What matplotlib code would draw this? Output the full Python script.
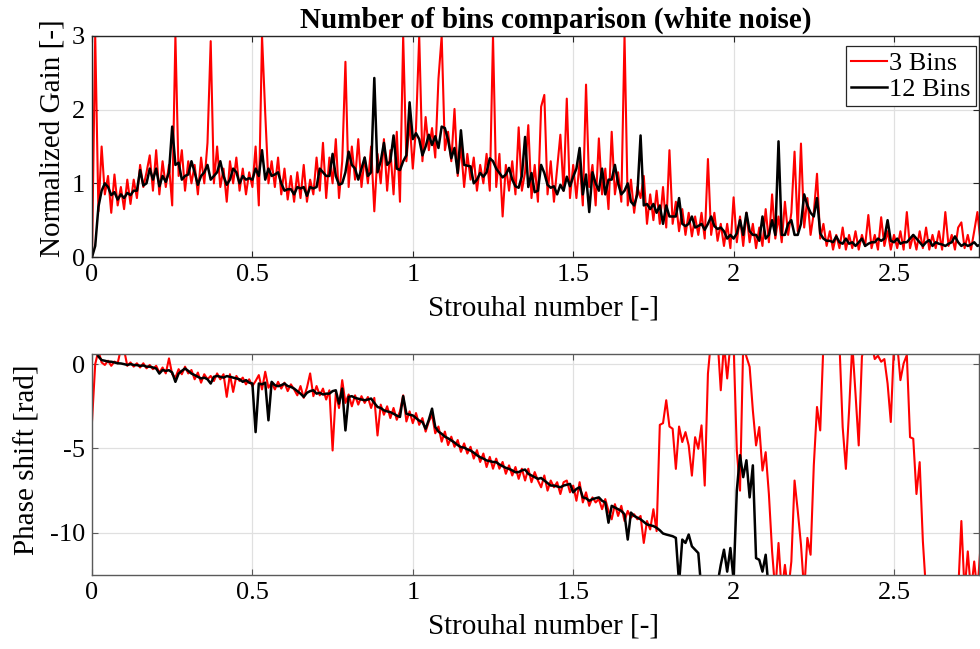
import numpy as np
import matplotlib
matplotlib.use("Agg")
import matplotlib.pyplot as plt

# ---------------- data (Strouhal grid step 0.01, starting at 0) ----------------
gain_12bins = [
    0.0, 0.15, 0.68, 0.9, 1.0, 0.95, 0.84, 0.88, 0.78, 0.85,
    0.8, 0.87, 0.84, 0.9, 0.9, 1.18, 0.97, 1.0, 1.2, 1.05,
    1.2, 0.96, 1.1, 1.02, 1.15, 1.77, 1.25, 1.28, 1.05, 1.1,
    1.12, 1.3, 1.15, 0.98, 1.1, 1.15, 1.25, 1.05, 1.1, 1.15,
    1.3, 1.1, 0.98, 1.05, 1.2, 1.15, 1.0, 1.1, 1.05, 1.07,
    1.05, 1.2, 1.1, 1.45, 1.05, 1.2, 1.1, 1.12, 1.15, 1.0,
    0.9, 0.92, 0.92, 0.85, 0.95, 0.93, 0.95, 0.83, 0.95, 0.93,
    0.95, 1.2, 1.15, 1.1, 1.1, 1.4, 1.1, 0.98, 1.0, 1.15,
    1.43, 1.25, 1.2, 1.05, 1.2, 1.35, 1.1, 1.15, 2.43, 1.15,
    1.3, 1.55, 1.25, 1.3, 1.65, 1.2, 1.18, 1.3, 1.38, 2.1,
    1.6, 1.68, 1.6, 1.38, 1.5, 1.66, 1.52, 1.64, 1.48, 1.77,
    1.75, 1.59, 1.34, 1.48, 1.14, 1.72, 1.25, 1.24, 1.23, 1.0,
    1.05, 1.14, 1.09, 1.15, 1.34, 1.3, 1.2, 1.14, 1.08, 1.12,
    1.21, 1.05, 0.96, 0.94, 1.1, 1.63, 0.95, 1.14, 0.88, 0.9,
    1.25, 1.14, 0.98, 0.94, 0.96, 0.85, 0.98, 0.9, 1.09, 0.96,
    1.09, 1.2, 1.48, 0.85, 1.12, 0.61, 1.15, 1.0, 0.9, 1.2,
    0.85, 1.05, 1.05, 1.25, 1.0, 0.85, 0.9, 1.0, 0.75, 0.7,
    0.85, 1.65, 0.7, 0.72, 0.65, 0.72, 0.6, 0.7, 0.45, 0.7,
    0.55, 0.55, 0.55, 0.8, 0.45, 0.42, 0.45, 0.55, 0.4, 0.42,
    0.45, 0.37, 0.45, 0.55, 0.42, 0.38, 0.4, 0.35, 0.25, 0.3,
    0.25, 0.32, 0.5, 0.3, 0.6, 0.35, 0.3, 0.3, 0.22, 0.55,
    0.25, 0.3, 0.5, 0.3, 1.57, 0.3, 0.3, 0.45, 0.5, 0.3,
    0.3, 0.45, 0.85, 0.7, 0.6, 0.55, 0.8, 0.32, 0.25, 0.22,
    0.22, 0.2, 0.28, 0.2, 0.18, 0.25, 0.18, 0.2, 0.15, 0.2,
    0.25, 0.15, 0.18, 0.2, 0.2, 0.25, 0.22, 0.25, 0.5, 0.22,
    0.2, 0.25, 0.18, 0.2, 0.2, 0.25, 0.3, 0.25, 0.2, 0.15,
    0.2, 0.23, 0.15, 0.2, 0.18, 0.17, 0.15, 0.18, 0.2, 0.28,
    0.2, 0.15, 0.18, 0.15, 0.17, 0.2, 0.15, 0.17,
]

gain_3bins = [
    0.0, 3.0, 0.62, 1.5, 0.85, 1.1, 0.6, 1.12, 0.7, 0.95,
    0.65, 1.05, 0.72, 1.05, 0.8, 1.25, 0.95, 1.15, 1.38, 0.9,
    1.45, 0.85, 1.3, 0.95, 1.25, 0.7, 3.0, 1.1, 1.45, 0.9,
    1.3, 1.0, 1.25, 0.85, 1.35, 1.0, 1.55, 2.93, 1.0, 1.5,
    0.95, 1.2, 0.75, 1.3, 1.0, 1.35, 0.9, 1.2, 0.85, 1.15,
    0.95, 1.5, 0.7, 3.0, 1.95, 1.0, 1.3, 0.95, 1.35, 0.85,
    1.2, 0.78, 1.1, 0.75, 1.15, 0.8, 1.25, 0.75, 1.05, 0.85,
    1.35, 0.9, 1.55, 0.8, 1.35, 1.0, 1.6, 0.8, 1.3, 2.65,
    0.95, 1.5, 1.05, 1.6, 0.95, 1.35, 1.0, 1.5, 0.62, 1.4,
    1.0, 1.6, 0.9, 1.45, 0.85, 1.7, 0.75, 3.0, 1.3, 1.85,
    1.2, 1.75, 3.0, 1.3, 1.9, 1.45, 1.75, 1.35, 2.42, 3.0,
    1.45, 1.7, 1.3, 2.01, 1.1, 1.5, 0.95, 1.4, 1.05, 1.35,
    0.9, 1.25, 1.0, 1.4, 0.9, 3.0, 0.95, 1.4, 0.55, 1.25,
    0.9, 1.3, 0.85, 1.76, 0.9, 1.15, 1.79, 0.8, 1.25, 0.75,
    2.04, 2.2, 0.85, 1.3, 0.75, 1.2, 1.66, 0.9, 2.15, 0.8,
    1.25, 0.8, 1.3, 0.7, 2.34, 0.95, 1.25, 0.7, 1.61, 0.85,
    1.2, 0.65, 1.7, 0.85, 1.15, 0.75, 3.0, 0.7, 1.05, 0.6,
    0.95, 0.8, 1.1, 0.45, 0.85, 0.5, 0.9, 0.45, 0.95, 0.4,
    1.45, 0.45, 0.75, 0.35, 0.65, 0.3, 0.6, 0.28, 0.55, 0.3,
    0.6, 0.25, 1.33, 0.3, 0.6, 0.22, 0.45, 0.15, 0.45, 0.12,
    0.81, 0.2, 0.55, 0.15, 0.6, 0.2, 0.45, 0.12, 0.4, 0.15,
    0.65, 0.2, 0.85, 0.25, 0.55, 0.2, 0.75, 0.3, 0.6, 1.43,
    0.35, 1.54, 0.4, 0.8, 0.3, 0.6, 1.13, 0.25, 0.45, 0.15,
    0.35, 0.1, 0.3, 0.12, 0.4, 0.1, 0.3, 0.12, 0.35, 0.1,
    0.3, 0.15, 0.57, 0.12, 0.3, 0.1, 0.54, 0.15, 0.35, 0.1,
    0.3, 0.12, 0.35, 0.1, 0.61, 0.12, 0.3, 0.1, 0.35, 0.12,
    0.4, 0.1, 0.3, 0.12, 0.35, 0.1, 0.61, 0.15, 0.3, 0.1,
    0.4, 0.47, 0.12, 0.3, 0.1, 0.35, 0.61, 0.2,
]

phase_12bins = [
    1.5, 0.9, 0.45, 0.24, 0.2, 0.15, 0.14, 0.1, 0.05, 0.04,
    0.0, -0.05, 0.0, -0.05, -0.06, -0.1, -0.08, -0.15, -0.15, -0.2,
    -0.26, -0.56, -0.35, -0.4, -0.36, -0.5, -1.05, -0.56, -0.4, -0.26,
    -0.4, -0.56, -0.65, -0.75, -0.85, -0.8, -0.9, -1.15, -0.75, -0.7,
    -0.75, -0.8, -0.71, -0.75, -0.8, -0.85, -0.9, -1.05, -0.95, -1.1,
    -1.15, -4.03, -1.15, -1.2, -1.1, -3.33, -1.05, -1.25, -1.31, -1.25,
    -1.15, -1.3, -1.35, -1.45, -1.6, -1.75, -1.94, -1.7, -1.6, -1.55,
    -1.75, -1.7, -1.8, -1.75, -1.75, -1.6, -1.55, -2.34, -1.45, -3.93,
    -1.94, -1.9, -2.0, -2.05, -2.1, -2.14, -2.1, -2.04, -2.3, -2.54,
    -2.6, -2.74, -2.8, -2.85, -2.94, -3.05, -3.13, -1.9, -2.94, -3.0,
    -3.04, -3.2, -3.35, -3.43, -3.83, -3.3, -2.64, -3.73, -4.0, -4.13,
    -4.3, -4.4, -4.52, -4.65, -4.8, -4.92, -4.95, -5.05, -5.12, -5.25,
    -5.4, -5.52, -5.6, -5.71, -5.75, -5.8, -5.81, -5.95, -6.05, -6.15,
    -6.21, -6.3, -6.41, -6.4, -6.3, -6.25, -6.5, -6.6, -6.7, -6.8,
    -6.75, -6.9, -7.05, -7.2, -7.2, -7.25, -7.3, -7.2, -7.15, -7.1,
    -7.6, -7.4, -7.3, -7.9, -7.95, -8.1, -8.0, -7.95, -7.9, -8.1,
    -8.2, -9.4, -8.4, -8.5, -8.6, -8.7, -8.9, -10.4, -8.8, -9.0,
    -9.1, -9.2, -9.35, -9.5, -9.55, -9.6, -9.7, -9.85, -10.04, -10.1,
    -10.15, -10.2, -10.3, -13.0, -10.4, -10.6, -10.1, -10.8, -11.0, -11.2,
    -13.5, -14.0, -14.5, -14.0, -13.5, -13.0, -11.9, -11.0, -12.3, -10.9,
    -12.8, -7.5, -5.4, -6.7, -5.7, -7.9, -6.0, -11.5, -11.6, -12.3,
    -11.3, -13.5, -14.0,
]

phase_3bins = [
    -3.4, 0.0, 0.8, 0.1, -0.05, 0.2, -0.1, 0.15, 0.05, 0.9,
    0.85, -0.1, 0.1, -0.15, 0.05, -0.2, 0.05, -0.25, -0.05, -0.3,
    -0.1, -0.5, -0.2, -0.55, 0.34, -0.6, -0.8, -0.3, -0.6, -0.15,
    -0.55, -0.35, -0.9, -0.5, -1.1, -0.6, -0.9, -0.7, -1.0, -0.55,
    -0.9, -0.6, -1.94, -0.6, -1.65, -0.7, -1.0, -0.8, -1.2, -0.9,
    -1.3, -1.0, -0.65, -1.5, -0.45, -1.4, -1.1, -1.5, -1.05, -1.45,
    -1.1, -1.6, -1.2, -1.5, -1.85, -1.3, -2.0, -1.4, -0.55, -1.9,
    -1.3, -1.85, -1.45, -2.1, -1.55, -5.12, -1.7, -2.6, -0.95, -2.3,
    -1.8, -2.5, -1.85, -2.4, -1.9, -2.3, -1.95, -2.6, -2.0, -4.23,
    -2.4, -3.0, -2.5, -3.2, -2.6, -3.3, -2.8, -1.85, -3.4, -2.8,
    -3.5, -2.9, -3.6, -3.2, -4.0, -3.4, -3.0, -4.1, -3.7, -4.6,
    -4.0, -4.8, -4.3, -4.9, -4.5, -5.2, -4.7, -5.3, -4.9, -5.6,
    -5.1, -5.8, -5.3, -6.1, -5.5, -6.2, -5.6, -6.2, -5.8, -6.5,
    -6.0, -6.6, -6.1, -6.8, -6.2, -6.9, -6.2, -7.0, -6.4, -6.9,
    -7.3, -6.6, -7.5, -6.9, -7.3, -7.0, -7.7, -7.0, -6.9, -7.6,
    -7.2, -8.1, -7.0, -8.2, -7.6, -8.4, -7.9, -8.2, -8.0, -8.6,
    -8.0, -8.7, -9.2, -8.3, -9.0, -8.4, -9.3, -8.7, -9.1, -8.9,
    -9.2, -9.0, -10.6, -9.3, -9.8, -8.6, -9.9, -3.6, -3.5, -2.14,
    -3.7, -3.83, -6.21, -3.7, -4.62, -4.03, -4.82, -6.61, -4.33, -5.02,
    -3.63, -7.2, -0.56, 1.5, 1.2, 1.5, -1.55, 1.2, -0.85, 1.2,
    1.2, -5.12, -7.5, 1.2, 0.44, -0.16, -2.74, -4.82, -3.73, -6.31,
    -5.22, -7.7, -11.1, -13.5, -10.6, -13.5, -11.9, -13.5, -11.7, -6.9,
    -8.7, -10.7, -13.5, -10.3, -11.3, -6.0, -2.54, -3.93, 1.2, 1.5,
    1.2, 1.5, 1.2, 1.2, -3.73, -6.21, -2.74, 1.2, -1.75, -4.82,
    0.44, 1.2, 1.5, 1.2, 0.3, 0.5, 0.14, 0.3, -1.15, -3.43,
    1.2, 1.2, -0.95, 0.04, 0.54, -4.33, -4.42, -7.7, -5.81, -10.5,
    -13.5, -13.5, -13.5, -13.5, -13.5, -13.5, -13.5, -13.5, -13.5, -13.5,
    -13.5, -9.3, -13.5, -11.1, -13.5, -11.7, -13.5, -10.7,
]

st_step = 0.01
xticks = [0, 0.5, 1, 1.5, 2, 2.5]
xticklabels = ["0", "0.5", "1", "1.5", "2", "2.5"]
gain_ticks = [0, 1, 2, 3]
phase_ticks = [-10, -5, 0]
series_labels = ["3 Bins", "12 Bins"]

# ---------------- figure ----------------
plt.rcParams["font.family"] = ["Liberation Serif", "DejaVu Serif"]
plt.rcParams["axes.unicode_minus"] = False

W, H = 980, 649
fig = plt.figure(figsize=(W / 100, H / 100), dpi=100)

ax_l, ax_r = 92, 979
ax1 = fig.add_axes([ax_l / W, (H - 257) / H, (ax_r - ax_l) / W, 221 / H])
ax2 = fig.add_axes([ax_l / W, (H - 575) / H, (ax_r - ax_l) / W, 221 / H])

x3 = np.arange(len(gain_3bins)) * st_step
x12 = np.arange(len(gain_12bins)) * st_step
xp3 = np.arange(len(phase_3bins)) * st_step
xp12 = np.arange(len(phase_12bins)) * st_step

ax1.plot(x3, gain_3bins, color="#ff0000", lw=1.5, label=series_labels[0])
ax1.plot(x12, gain_12bins, color="black", lw=1.8, label=series_labels[1])
ax2.plot(xp3, phase_3bins, color="#ff0000", lw=1.5)
ax2.plot(xp12, phase_12bins, color="black", lw=1.8)

xmax = (ax_r - ax_l) / 320.8
tick_fs = 19
label_fs = 21

for ax, spine_col in ((ax1, "#262626"), (ax2, "#5a5a5a")):
    ax.set_xlim(0, xmax)
    ax.set_xticks(xticks)
    ax.set_xticklabels(xticklabels)
    ax.grid(True, color="#e0e0e0", linewidth=0.9)
    ax.set_axisbelow(True)
    ax.tick_params(direction="in", length=4, width=0.8, top=True, right=True,
                   labelsize=tick_fs, colors=spine_col, labelcolor="black", pad=5)
    for s in ax.spines.values():
        s.set_color(spine_col)
        s.set_linewidth(1.0)
    ax.set_xlabel("Strouhal number [-]", fontsize=label_fs)

ax1.set_ylim(0, 3)
ax1.set_yticks(gain_ticks)
ax2.set_ylim(-12.5, 0.6)
ax2.set_yticks(phase_ticks)

ax1.set_ylabel("Normalized Gain [-]", fontsize=label_fs)
ax2.set_ylabel("Phase shift [rad]", fontsize=label_fs)

axw = ax_r - ax_l
ax1.xaxis.set_label_coords((543.5 - ax_l) / axw, (257 - 308) / 221)
ax1.xaxis.label.set_va("center")
ax2.xaxis.set_label_coords((543.5 - ax_l) / axw, (575 - 627) / 221)
ax2.xaxis.label.set_va("center")
ax1.yaxis.set_label_coords((52 - ax_l) / axw, (257 - 138) / 221)
ax1.yaxis.label.set_va("center")
ax2.yaxis.set_label_coords((27 - ax_l) / axw, (575 - 460) / 221)
ax2.yaxis.label.set_va("center")

ax1.set_title("Number of bins comparison (white noise)", fontsize=label_fs,
              fontweight="bold", x=(556 - ax_l) / axw, y=(257 - 20) / 221,
              va="center", pad=0)

leg = ax1.legend(loc="upper right", bbox_to_anchor=((976 - ax_l) / axw, (257 - 46) / 221),
                 borderaxespad=0, fontsize=tick_fs, fancybox=False, framealpha=1,
                 edgecolor="#262626", handlelength=1.35, handletextpad=0.1,
                 borderpad=0.2, labelspacing=0.1)
leg.get_frame().set_linewidth(0.9)

fig.savefig("out.png", dpi=100)
